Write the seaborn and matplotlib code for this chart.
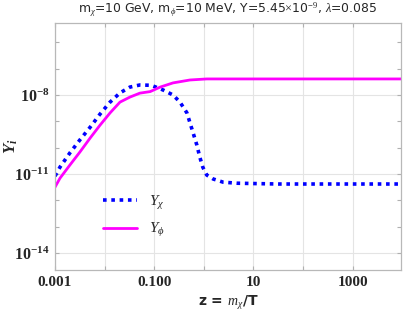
import numpy as np
import pandas as pd
import matplotlib
matplotlib.use('Agg')
import matplotlib.pyplot as plt
import matplotlib.ticker as mticker
import seaborn as sns

# values (log10 z, log10 Y)
chi_logz = [-3.0, -2.9, -2.7, -2.5, -2.29, -2.09, -1.89, -1.69, -1.49, -1.29, -1.08,
            -1.02, -0.82, -0.62, -0.48, -0.34, -0.22, -0.14, -0.08, -0.02, 0.06,
            0.19, 0.39, 0.67, 1.5, 2.5, 3.98]
chi_logy = [-11.08, -10.74, -10.2, -9.71, -9.22, -8.72, -8.27, -7.92, -7.7, -7.62, -7.63,
            -7.66, -7.81, -8.0, -8.27, -8.68, -9.41, -9.9, -10.36, -10.74, -11.04,
            -11.19, -11.31, -11.35, -11.38, -11.38, -11.38]

phi_logz = [-3.0, -2.9, -2.7, -2.5, -2.29, -2.09, -1.89, -1.69, -1.49, -1.29, -1.08,
            -0.88, -0.62, -0.28, 0.06, 0.5, 1.5, 2.5, 3.98]
phi_logy = [-11.5, -11.16, -10.66, -10.17, -9.63, -9.14, -8.68, -8.27, -8.08, -7.93, -7.87,
            -7.7, -7.54, -7.43, -7.39, -7.39, -7.39, -7.39, -7.39]

xticks = [1e-3, 1e-1, 1e1, 1e3]
xticklabels = ['0.001', '0.100', '10', '1000']
yticks = [1e-14, 1e-11, 1e-8]
yticklabels = [r'$\mathbf{10^{-14}}$', r'$\mathbf{10^{-11}}$', r'$\mathbf{10^{-8}}$']

df = pd.concat([
    pd.DataFrame({'z': np.power(10.0, chi_logz), 'Y': np.power(10.0, chi_logy), 's': 'chi'}),
    pd.DataFrame({'z': np.power(10.0, phi_logz), 'Y': np.power(10.0, phi_logy), 's': 'phi'}),
])

sns.set_theme(style='whitegrid')
plt.rcParams['mathtext.fontset'] = 'custom'
plt.rcParams['mathtext.rm'] = 'Liberation Serif'
plt.rcParams['mathtext.bf'] = 'Liberation Serif:bold'
plt.rcParams['mathtext.it'] = 'Liberation Serif:italic'
plt.rcParams['mathtext.bfit'] = 'Liberation Serif:bold:italic'

fig = plt.figure(figsize=(4.03, 3.27), dpi=100)
ax = fig.add_axes([0.1365, 0.1743, 0.8585, 0.7554])

sns.lineplot(data=df[df.s == 'chi'], x='z', y='Y', ax=ax, color='#0000ff',
             linestyle=(0, (1, 1.3)), linewidth=2.6, label=r'$Y_\chi$')
sns.lineplot(data=df[df.s == 'phi'], x='z', y='Y', ax=ax, color='#ff00ff',
             linewidth=2.0, label=r'$Y_\phi$')

ax.set_xscale('log')
ax.set_yscale('log')
ax.set_xlim(1e-3, 9470)
ax.set_ylim(2.26e-15, 5.43e-6)

ax.xaxis.set_major_locator(mticker.FixedLocator(xticks))
ax.xaxis.set_minor_locator(mticker.LogLocator(base=10, numticks=20))
ax.xaxis.set_minor_formatter(mticker.NullFormatter())
ax.set_xticklabels(xticklabels, fontdict={'family': 'Liberation Serif', 'weight': 'bold', 'size': 11})
ax.yaxis.set_major_locator(mticker.FixedLocator(yticks))
ax.yaxis.set_minor_locator(mticker.LogLocator(base=10, subs=(1.0,), numticks=30))
ax.yaxis.set_minor_formatter(mticker.NullFormatter())
ax.set_yticklabels(yticklabels, fontsize=11.5)

ax.grid(True, which='major', axis='y', color='#e4e4e4', linewidth=0.8)
ax.grid(True, which='minor', axis='x', color='#e4e4e4', linewidth=0.8)
ax.grid(True, which='major', axis='x', color='#e4e4e4', linewidth=0.8)
ax.tick_params(which='both', direction='in', length=3, color='#b0b0b0', width=0.8,
               top=True, right=True, bottom=True, left=True, pad=4)
for sp in ax.spines.values():
    sp.set_color('#b8b8b8')
    sp.set_linewidth(0.9)

ax.set_xlabel(r'z = $m_\chi$/T', fontsize=10, fontweight='bold', family='DejaVu Sans')
ax.set_ylabel(r'$\mathbfit{Y_i}$', fontsize=12)
ax.yaxis.set_label_coords(-0.1, 0.5)
ax.set_title(r'm$_\chi$=10 GeV, m$_\phi$=10 MeV, Y=5.45$\times$10$^{-9}$, $\lambda$=0.085',
             fontsize=8.9, family='DejaVu Sans', pad=7)

leg = ax.legend(loc='lower left', bbox_to_anchor=(0.1, 0.07), frameon=False,
                fontsize=11, handlelength=2.2, labelspacing=0.6)

fig.savefig('out.png', dpi=100)
